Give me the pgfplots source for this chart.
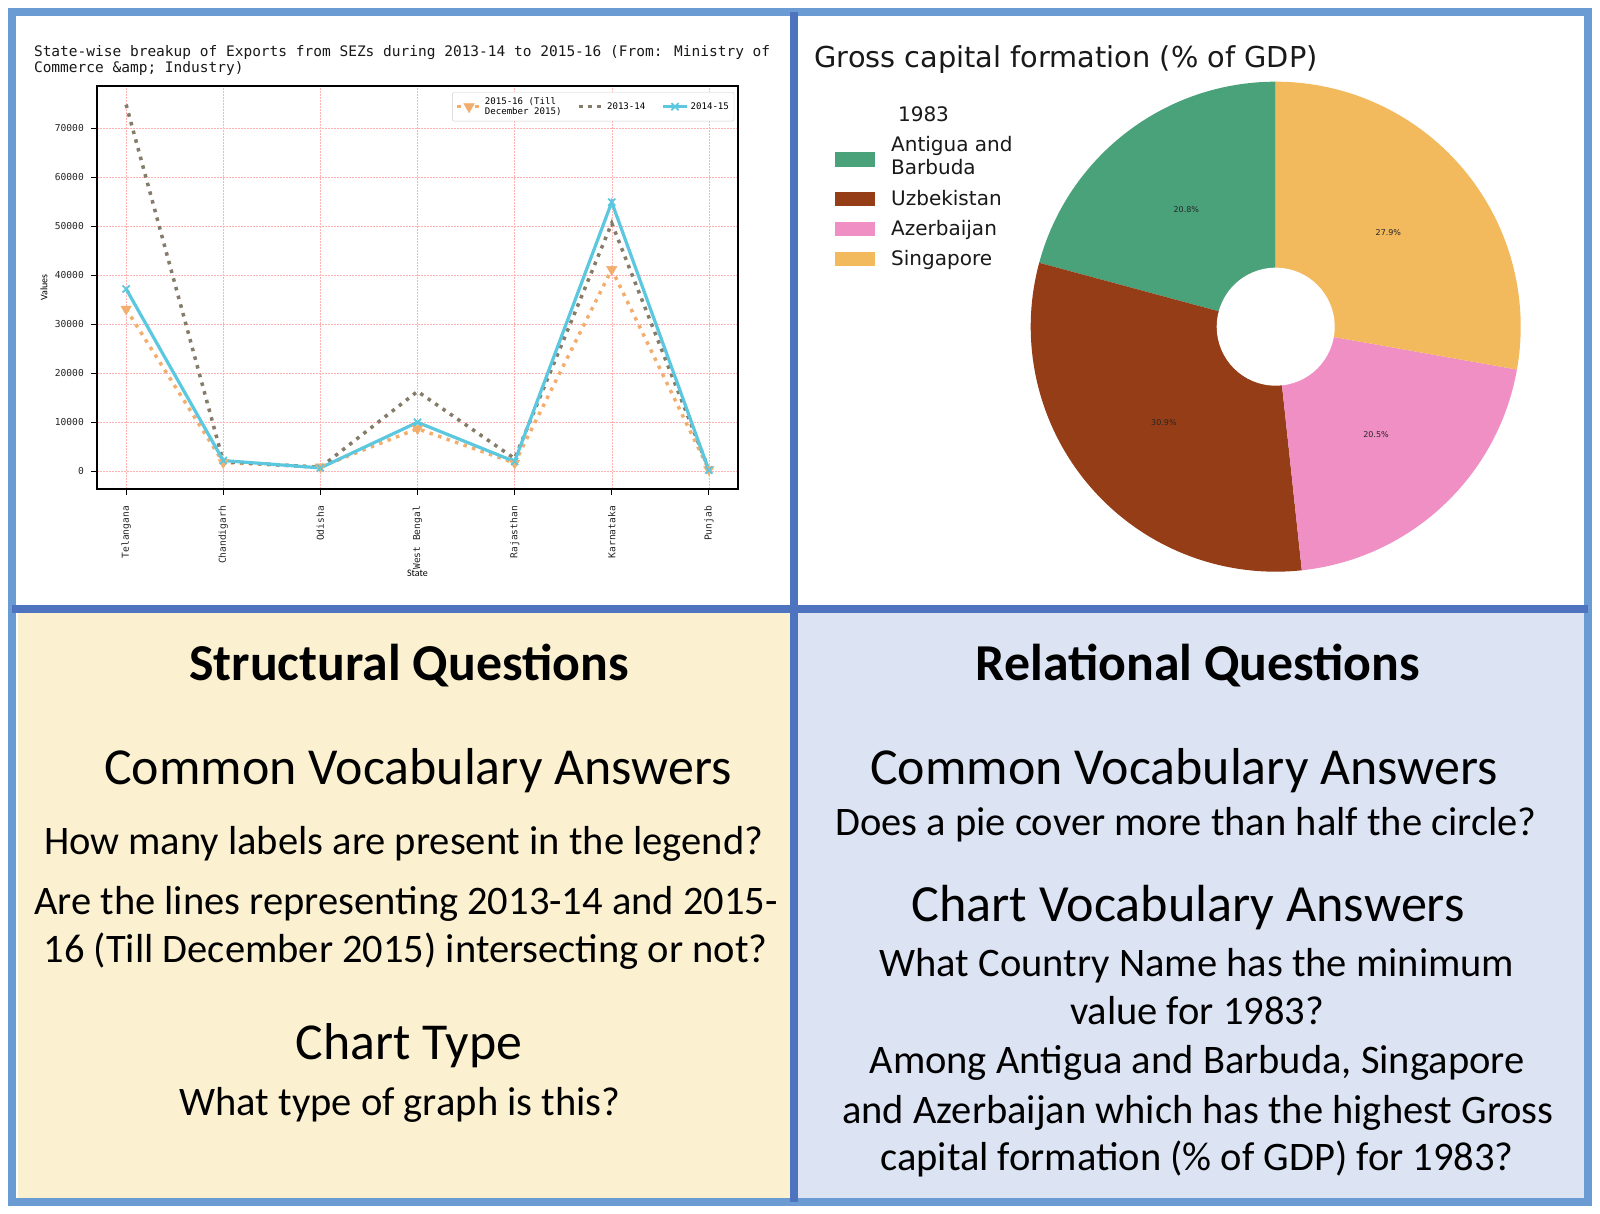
\documentclass[border=0pt]{standalone}
\usepackage{pgfplots}
\pgfplotsset{compat=1.18}
\usepackage{fontspec}
\setmainfont{Carlito}
\newfontfamily\dejavu{DejaVu Sans}
\newfontfamily\monof{DejaVu Sans Mono}
\definecolor{frameL}{HTML}{6A9BD3}
\definecolor{frameD}{HTML}{4E73BF}
\definecolor{panY}{HTML}{FBF0D0}
\definecolor{panB}{HTML}{DCE3F2}
\definecolor{cOr}{HTML}{F2AE6E}
\definecolor{cGr}{HTML}{857B69}
\definecolor{cCy}{HTML}{5BC8E0}
\definecolor{pGreen}{HTML}{4AA27B}
\definecolor{pBrown}{HTML}{953D17}
\definecolor{pPink}{HTML}{EF8FC4}
\definecolor{pYel}{HTML}{F3B95D}
\begin{document}
\begin{tikzpicture}[x=1pt,y=1pt]
\useasboundingbox (0,0) rectangle (1600,1214);
\fill[white] (0,0) rectangle (1600,1214);
\fill[frameL] (8,8) rectangle (1592,1206);
\fill[white] (16,16) rectangle (1584,1198);
\fill[panY] (18,16) rectangle (790,601);
\fill[panB] (798,16) rectangle (1584,601);
\fill[frameD] (790,12) rectangle (798,1202);
\fill[frameD] (12,601) rectangle (1588,609);

% ---------------- line chart ----------------
\begin{axis}[
  at={(97pt,725pt)}, anchor=south west,
  scale only axis, width=641pt, height=403pt,
  xmin=-0.3, xmax=6.3, ymin=-3600, ymax=78600,
  xtick={0,1,2,3,4,5,6},
  xticklabels={Telangana,Chandigarh,Odisha,West Bengal,Rajasthan,Karnataka,Punjab},
  ytick={0,10000,20000,30000,40000,50000,60000,70000},
  scaled y ticks=false,
  /pgf/number format/1000 sep={},
  /pgf/number format/assume math mode=true,
  ticklabel style={font=\monof\fontsize{9.6}{11}\selectfont, text=black!85},
  xticklabel style={rotate=90, anchor=east, inner xsep=11pt, inner ysep=0pt},
  yticklabel style={anchor=east, inner xsep=0pt, xshift=-7pt},
  tick pos=left, tick align=outside, major tick length=6pt,
  tick style={black, line width=1.2pt},
  axis line style={black, line width=1.6pt},
  grid=major,
  major grid style={red!30, line width=0.4pt, dash pattern=on 1.5pt off 1.5pt},
  xlabel={State}, ylabel={Values},
  label style={font=\monof\fontsize{9.4}{11}\selectfont, text=black!85},
  every axis x label/.style={at={(axis description cs:0.5,-0.2084)}, anchor=center},
  every axis y label/.style={at={(axis description cs:-0.0827,0.5)}, rotate=90, anchor=center},
  legend columns=3,
  legend style={at={(axis description cs:0.994,0.985)}, anchor=north east,
    font=\monof\fontsize{9.1}{10.5}\selectfont, draw=black!20, rounded corners=2pt,
    cells={anchor=west, align=left}, inner sep=3pt,
    /tikz/every even column/.append style={column sep=14pt}},
  legend image code/.code={\draw[mark repeat=2,mark phase=2,#1] plot coordinates {(0pt,0pt) (12pt,0pt) (24pt,0pt)};},
  clip=false,
]
\addplot[cOr, line width=3.5pt, dash pattern=on 3.5pt off 5.5pt, mark=triangle*, mark size=6pt,
  mark options={solid, rotate=180, fill=cOr, draw=cOr, line width=0.5pt}]
  coordinates {(0,33100) (1,1800) (2,900) (3,8700) (4,1700) (5,41200) (6,350)};
\addlegendentry{2015-16 (Till\\December 2015)}
\addplot[cGr, line width=3.5pt, dash pattern=on 3.5pt off 5.5pt]
  coordinates {(0,74800) (1,2000) (2,800) (3,16300) (4,2600) (5,50600) (6,400)};
\addlegendentry{2013-14}
\addplot[cCy, line width=3.2pt, mark=x, mark size=5pt, mark options={solid, line width=1.8pt}]
  coordinates {(0,37200) (1,2200) (2,700) (3,10000) (4,2000) (5,54900) (6,250)};
\addlegendentry{2014-15}
\end{axis}
\node[anchor=base west, font=\monof\fontsize{14.5}{16.7}\selectfont, text=black!90] at (30.5,1157)
  {State-wise breakup of Exports from SEZs during 2013-14 to 2015-16 (From: Ministry of};
\node[anchor=base west, font=\monof\fontsize{14.5}{16.7}\selectfont, text=black!90] at (30.5,1141)
  {Commerce \&amp; Industry)};

% ---------------- pie chart ----------------
\pgfmathsetmacro{\aA}{90}
\pgfmathsetmacro{\aB}{\aA+20.8*3.6}
\pgfmathsetmacro{\aC}{\aB+30.9*3.6}
\pgfmathsetmacro{\aD}{\aC+20.5*3.6}
\pgfmathsetmacro{\aE}{450}
\begin{axis}[
  at={(1275.7pt,887.3pt)}, anchor=center,
  x=1pt, y=1pt, xmin=-245, xmax=245, ymin=-245, ymax=245,
  hide axis, clip=false,
]
\addplot[draw=none, forget plot] coordinates {(0,0)};
\fill[pGreen] (axis cs:0,0) -- ++(\aA:245pt) arc[start angle=\aA, end angle=\aB, radius=245pt] -- cycle;
\fill[pBrown] (axis cs:0,0) -- ++(\aB:245pt) arc[start angle=\aB, end angle=\aC, radius=245pt] -- cycle;
\fill[pPink] (axis cs:0,0) -- ++(\aC:245pt) arc[start angle=\aC, end angle=\aD, radius=245pt] -- cycle;
\fill[pYel] (axis cs:0,0) -- ++(\aD:245pt) arc[start angle=\aD, end angle=\aE, radius=245pt] -- cycle;
\fill[white] (axis cs:0,0) circle[radius=59pt];
\node[font=\dejavu\fontsize{8}{9}\selectfont, text=black!85] at (axis cs:{147*cos((\aA+\aB)/2)},{147*sin((\aA+\aB)/2)}) {20.8\%};
\node[font=\dejavu\fontsize{8}{9}\selectfont, text=black!85] at (axis cs:{147*cos((\aB+\aC)/2)},{147*sin((\aB+\aC)/2)}) {30.9\%};
\node[font=\dejavu\fontsize{8}{9}\selectfont, text=black!85] at (axis cs:{147*cos((\aC+\aD)/2)},{147*sin((\aC+\aD)/2)}) {20.5\%};
\node[font=\dejavu\fontsize{8}{9}\selectfont, text=black!85] at (axis cs:{147*cos((\aD+\aE)/2)},{147*sin((\aD+\aE)/2)}) {27.9\%};
\end{axis}
\node[anchor=base west, font=\dejavu\fontsize{28.8}{34}\selectfont, text=black!90] at (811,1146) {Gross capital formation (\% of GDP)};
\begin{scope}[font=\dejavu\fontsize{20}{23}\selectfont, text=black!90]
\node[anchor=base] at (923.5,1092) {1983};
\fill[pGreen] (835,1047) rectangle (875,1062);
\fill[pBrown] (835,1008) rectangle (875,1022);
\fill[pPink] (835,978) rectangle (875,992);
\fill[pYel] (835,948) rectangle (875,962);
\node[anchor=base west, inner sep=0pt] at (891,1062) {Antigua and};
\node[anchor=base west, inner sep=0pt] at (891,1039) {Barbuda};
\node[anchor=base west, inner sep=0pt] at (891,1008) {Uzbekistan};
\node[anchor=base west, inner sep=0pt] at (891,978) {Azerbaijan};
\node[anchor=base west, inner sep=0pt] at (891,948) {Singapore};
\end{scope}

% ---------------- question panels ----------------
\begin{scope}[every node/.style={anchor=base, inner sep=0pt}]
\node[font=\bfseries\fontsize{51.8}{60}\selectfont] at (409,533) {Structural Questions};
\node[font=\fontsize{51.9}{60}\selectfont] at (418,429) {Common Vocabulary Answers};
\node[font=\fontsize{40.5}{48}\selectfont] at (403.6,359) {How many labels are present in the legend?};
\node[font=\fontsize{40.5}{48}\selectfont] at (406,299) {Are the lines representing 2013-14 and 2015-};
\node[font=\fontsize{40.5}{48}\selectfont] at (405.6,251) {16 (Till December 2015) intersecting or not?};
\node[font=\fontsize{51.8}{60}\selectfont] at (409,154) {Chart Type};
\node[font=\fontsize{40.5}{48}\selectfont] at (400,98) {What type of graph is this?};

\node[font=\bfseries\fontsize{51.8}{60}\selectfont] at (1198,533) {Relational Questions};
\node[font=\fontsize{51.9}{60}\selectfont] at (1184,429) {Common Vocabulary Answers};
\node[font=\fontsize{40.5}{48}\selectfont] at (1186,378) {Does a pie cover more than half the circle?};
\node[font=\fontsize{52.2}{60}\selectfont] at (1188,292) {Chart Vocabulary Answers};
\node[font=\fontsize{40.5}{48}\selectfont] at (1197,237) {What Country Name has the minimum};
\node[font=\fontsize{40.5}{48}\selectfont] at (1197,189) {value for 1983?};
\node[font=\fontsize{40.5}{48}\selectfont] at (1197,140) {Among Antigua and Barbuda, Singapore};
\node[font=\fontsize{40.5}{48}\selectfont] at (1198,90) {and Azerbaijan which has the highest Gross};
\node[font=\fontsize{40.5}{48}\selectfont] at (1197,43) {capital formation (\% of GDP) for 1983?};
\end{scope}
\end{tikzpicture}
\end{document}
